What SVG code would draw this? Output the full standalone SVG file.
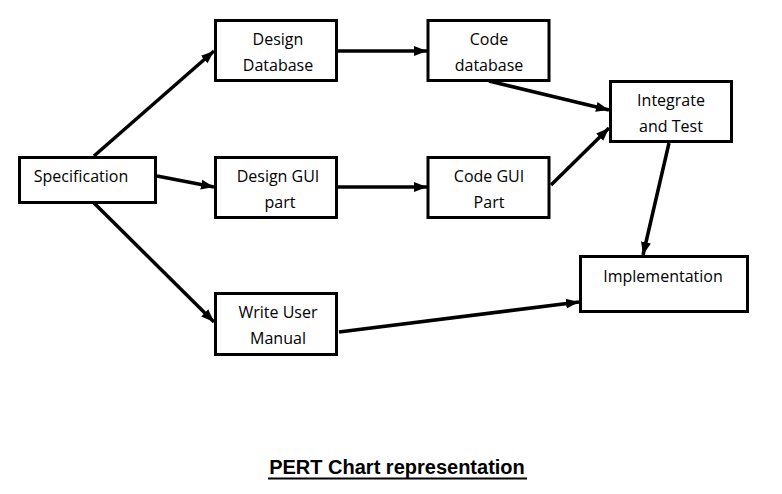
<svg xmlns="http://www.w3.org/2000/svg" width="782" height="494" viewBox="0 0 782 494">
<style>
.box{fill:#fff;stroke:#000;stroke-width:3}
.t{font-family:"Open Sans","Noto Sans",sans-serif;font-size:16px;fill:#000;text-anchor:middle}
.c{stroke:#000;stroke-width:3.5;fill:none;marker-end:url(#ah)}
.title{font-family:"Liberation Sans",Arial,sans-serif;font-weight:bold;font-size:20px;text-anchor:middle;fill:#000}
</style>
<defs>
<marker id="ah" markerUnits="userSpaceOnUse" markerWidth="14" markerHeight="12" refX="13" refY="6" orient="auto">
<path d="M0,1 L13,6 L0,11 Z" fill="#000"/>
</marker>
</defs>
<rect width="782" height="494" fill="#fff"/>
<g id="connectors">
<line class="c" x1="94" y1="156" x2="214" y2="51"/>
<line class="c" x1="157" y1="176" x2="214" y2="187"/>
<line class="c" x1="94" y1="203" x2="214" y2="322"/>
<line class="c" x1="338" y1="51" x2="427" y2="51"/>
<line class="c" x1="338" y1="187" x2="427" y2="187"/>
<line class="c" x1="489" y1="81" x2="609" y2="110"/>
<line class="c" x1="551" y1="185" x2="609" y2="128"/>
<line class="c" x1="669" y1="143" x2="643" y2="255"/>
<line class="c" x1="339" y1="332" x2="579" y2="302"/>
</g>
<g id="specification"><rect class="box" x="19.5" y="157.5" width="136" height="45"/><text class="t" x="81" y="182">Specification</text></g>
<g id="design-database"><rect class="box" x="215.5" y="20.5" width="121" height="60"/><text class="t" x="278" y="45">Design</text><text class="t" x="278" y="70.5">Database</text></g>
<g id="code-database"><rect class="box" x="428" y="20.5" width="121" height="60"/><text class="t" x="489" y="45">Code</text><text class="t" x="489" y="70.5">database</text></g>
<g id="design-gui"><rect class="box" x="215.5" y="157.5" width="121" height="60"/><text class="t" x="278" y="182">Design GUI</text><text class="t" x="280" y="208">part</text></g>
<g id="code-gui"><rect class="box" x="428" y="157.5" width="121" height="60"/><text class="t" x="489" y="182">Code GUI</text><text class="t" x="489" y="208">Part</text></g>
<g id="integrate-test"><rect class="box" x="610.5" y="81.5" width="121" height="60"/><text class="t" x="671" y="106">Integrate</text><text class="t" x="671" y="131.5">and Test</text></g>
<g id="implementation"><rect class="box" x="580.5" y="256.5" width="167" height="55"/><text class="t" x="663" y="281.5">Implementation</text></g>
<g id="write-user-manual"><rect class="box" x="215.5" y="293.5" width="121" height="61"/><text class="t" x="278" y="318">Write User</text><text class="t" x="278" y="344">Manual</text></g>
<g id="title"><text class="title" x="397" y="474">PERT Chart representation</text><line x1="268" y1="478.5" x2="527" y2="478.5" stroke="#000" stroke-width="2"/></g>
</svg>
